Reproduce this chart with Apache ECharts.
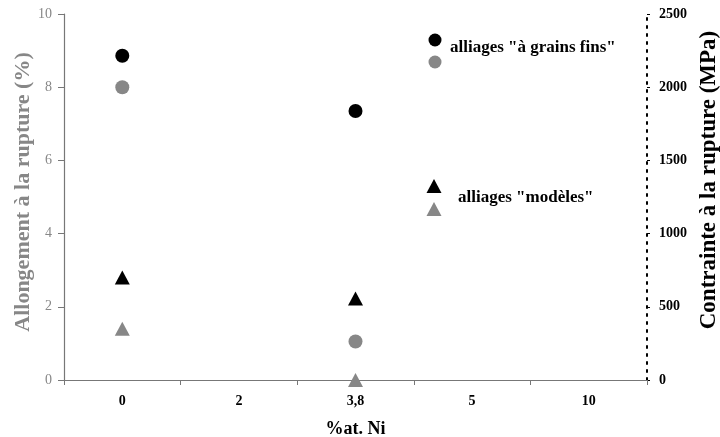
<!DOCTYPE html>
<html><head><meta charset="utf-8">
<script src="https://cdn.jsdelivr.net/npm/echarts@6/dist/echarts.min.js"></script>
<style>html,body{margin:0;padding:0;background:#fff}#c{width:720px;height:437px}</style>
</head><body><div id="c"></div>
<script>
const categories = ['0', '2', '3,8', '5', '10'];
// Allongement (%) - left axis, gray
const elongFine = [8.0, null, 1.05, null, null];
const elongModel = [1.4, null, 0, null, null];
// Contrainte (MPa) - right axis, black
const stressFine = [2215, null, 1837, null, null];
const stressModel = [700, null, 557, null, null];
const leftTicks = [0, 2, 4, 6, 8, 10];
const rightTicks = [0, 500, 1000, 1500, 2000, 2500];

const GRAY = '#878787';
const FONT = '"Liberation Serif", "Times New Roman", serif';
const chart = echarts.init(document.getElementById('c'));
chart.setOption({
  animation: false,
  grid: { left: 64, right: 73, top: 14, bottom: 57, containLabel: false, outerBoundsMode: 'none' },
  xAxis: {
    type: 'category', data: categories, boundaryGap: true,
    name: '%at. Ni', nameLocation: 'middle', nameGap: 40, nameMoveOverlap: false,
    nameTextStyle: { fontFamily: FONT, fontWeight: 'bold', fontSize: 18, color: '#000' },
    axisLine: { lineStyle: { color: '#777', width: 1.2 } },
    axisTick: { show: true, length: 5, inside: false, lineStyle: { color: '#777' } },
    axisLabel: { fontFamily: FONT, fontWeight: 'bold', fontSize: 14, color: '#000', margin: 14 },
    splitLine: { show: false }
  },
  yAxis: [{
    type: 'value', min: leftTicks[0], max: leftTicks[leftTicks.length - 1], interval: 2, position: 'left',
    name: 'Allongement à la rupture (%)', nameLocation: 'middle', nameGap: 30, nameRotate: 90, nameMoveOverlap: false,
    nameTextStyle: { fontFamily: FONT, fontWeight: 'bold', fontSize: 22, color: GRAY, padding: [0, 0, 0, 10] },
    axisLine: { show: true, lineStyle: { color: '#777', width: 1.2 } },
    axisTick: { show: true, length: 6, lineStyle: { color: '#777' } },
    axisLabel: { fontFamily: FONT, fontSize: 14, color: GRAY, margin: 12 },
    splitLine: { show: false }
  }, {
    type: 'value', min: rightTicks[0], max: rightTicks[rightTicks.length - 1], interval: 500, position: 'right',
    name: 'Contrainte à la rupture (MPa)', nameLocation: 'middle', nameGap: 51, nameRotate: 90, nameMoveOverlap: false,
    nameTextStyle: { fontFamily: FONT, fontWeight: 'bold', fontSize: 23, color: '#000', padding: [0, 0, 0, 34] },
    axisLine: { show: true, lineStyle: { color: '#000', width: 2, type: [2, 6] } },
    axisTick: { show: true, length: 3, lineStyle: { color: '#000' } },
    axisLabel: { fontFamily: FONT, fontWeight: 'bold', fontSize: 14, color: '#000', margin: 12, formatter: v => String(v) },
    splitLine: { show: false }
  }],
  series: [
    { type: 'scatter', yAxisIndex: 1, data: stressFine, symbol: 'circle', symbolSize: 14, itemStyle: { color: '#000', opacity: 1 } },
    { type: 'scatter', yAxisIndex: 0, data: elongFine, symbol: 'circle', symbolSize: 14, itemStyle: { color: GRAY, opacity: 1 } },
    { type: 'scatter', yAxisIndex: 1, data: stressModel, symbol: 'triangle', symbolSize: [15, 14], itemStyle: { color: '#000', opacity: 1 } },
    { type: 'scatter', yAxisIndex: 0, data: elongModel, symbol: 'triangle', symbolSize: [15, 14], itemStyle: { color: GRAY, opacity: 1 } }
  ],
  graphic: [
    { type: 'circle', shape: { cx: 435, cy: 40, r: 6.5 }, style: { fill: '#000' } },
    { type: 'circle', shape: { cx: 435, cy: 62, r: 6.5 }, style: { fill: GRAY } },
    { type: 'text', x: 450, y: 48, style: { text: 'alliages "à grains fins"', font: 'bold 17px ' + FONT, fill: '#000', textVerticalAlign: 'middle' } },
    { type: 'polygon', shape: { points: [[434, 179], [441.5, 193], [426.5, 193]] }, style: { fill: '#000' } },
    { type: 'polygon', shape: { points: [[434, 202], [441.5, 216], [426.5, 216]] }, style: { fill: GRAY } },
    { type: 'text', x: 458, y: 198, style: { text: 'alliages "modèles"', font: 'bold 17px ' + FONT, fill: '#000', textVerticalAlign: 'middle' } }
  ]
});
</script></body></html>
